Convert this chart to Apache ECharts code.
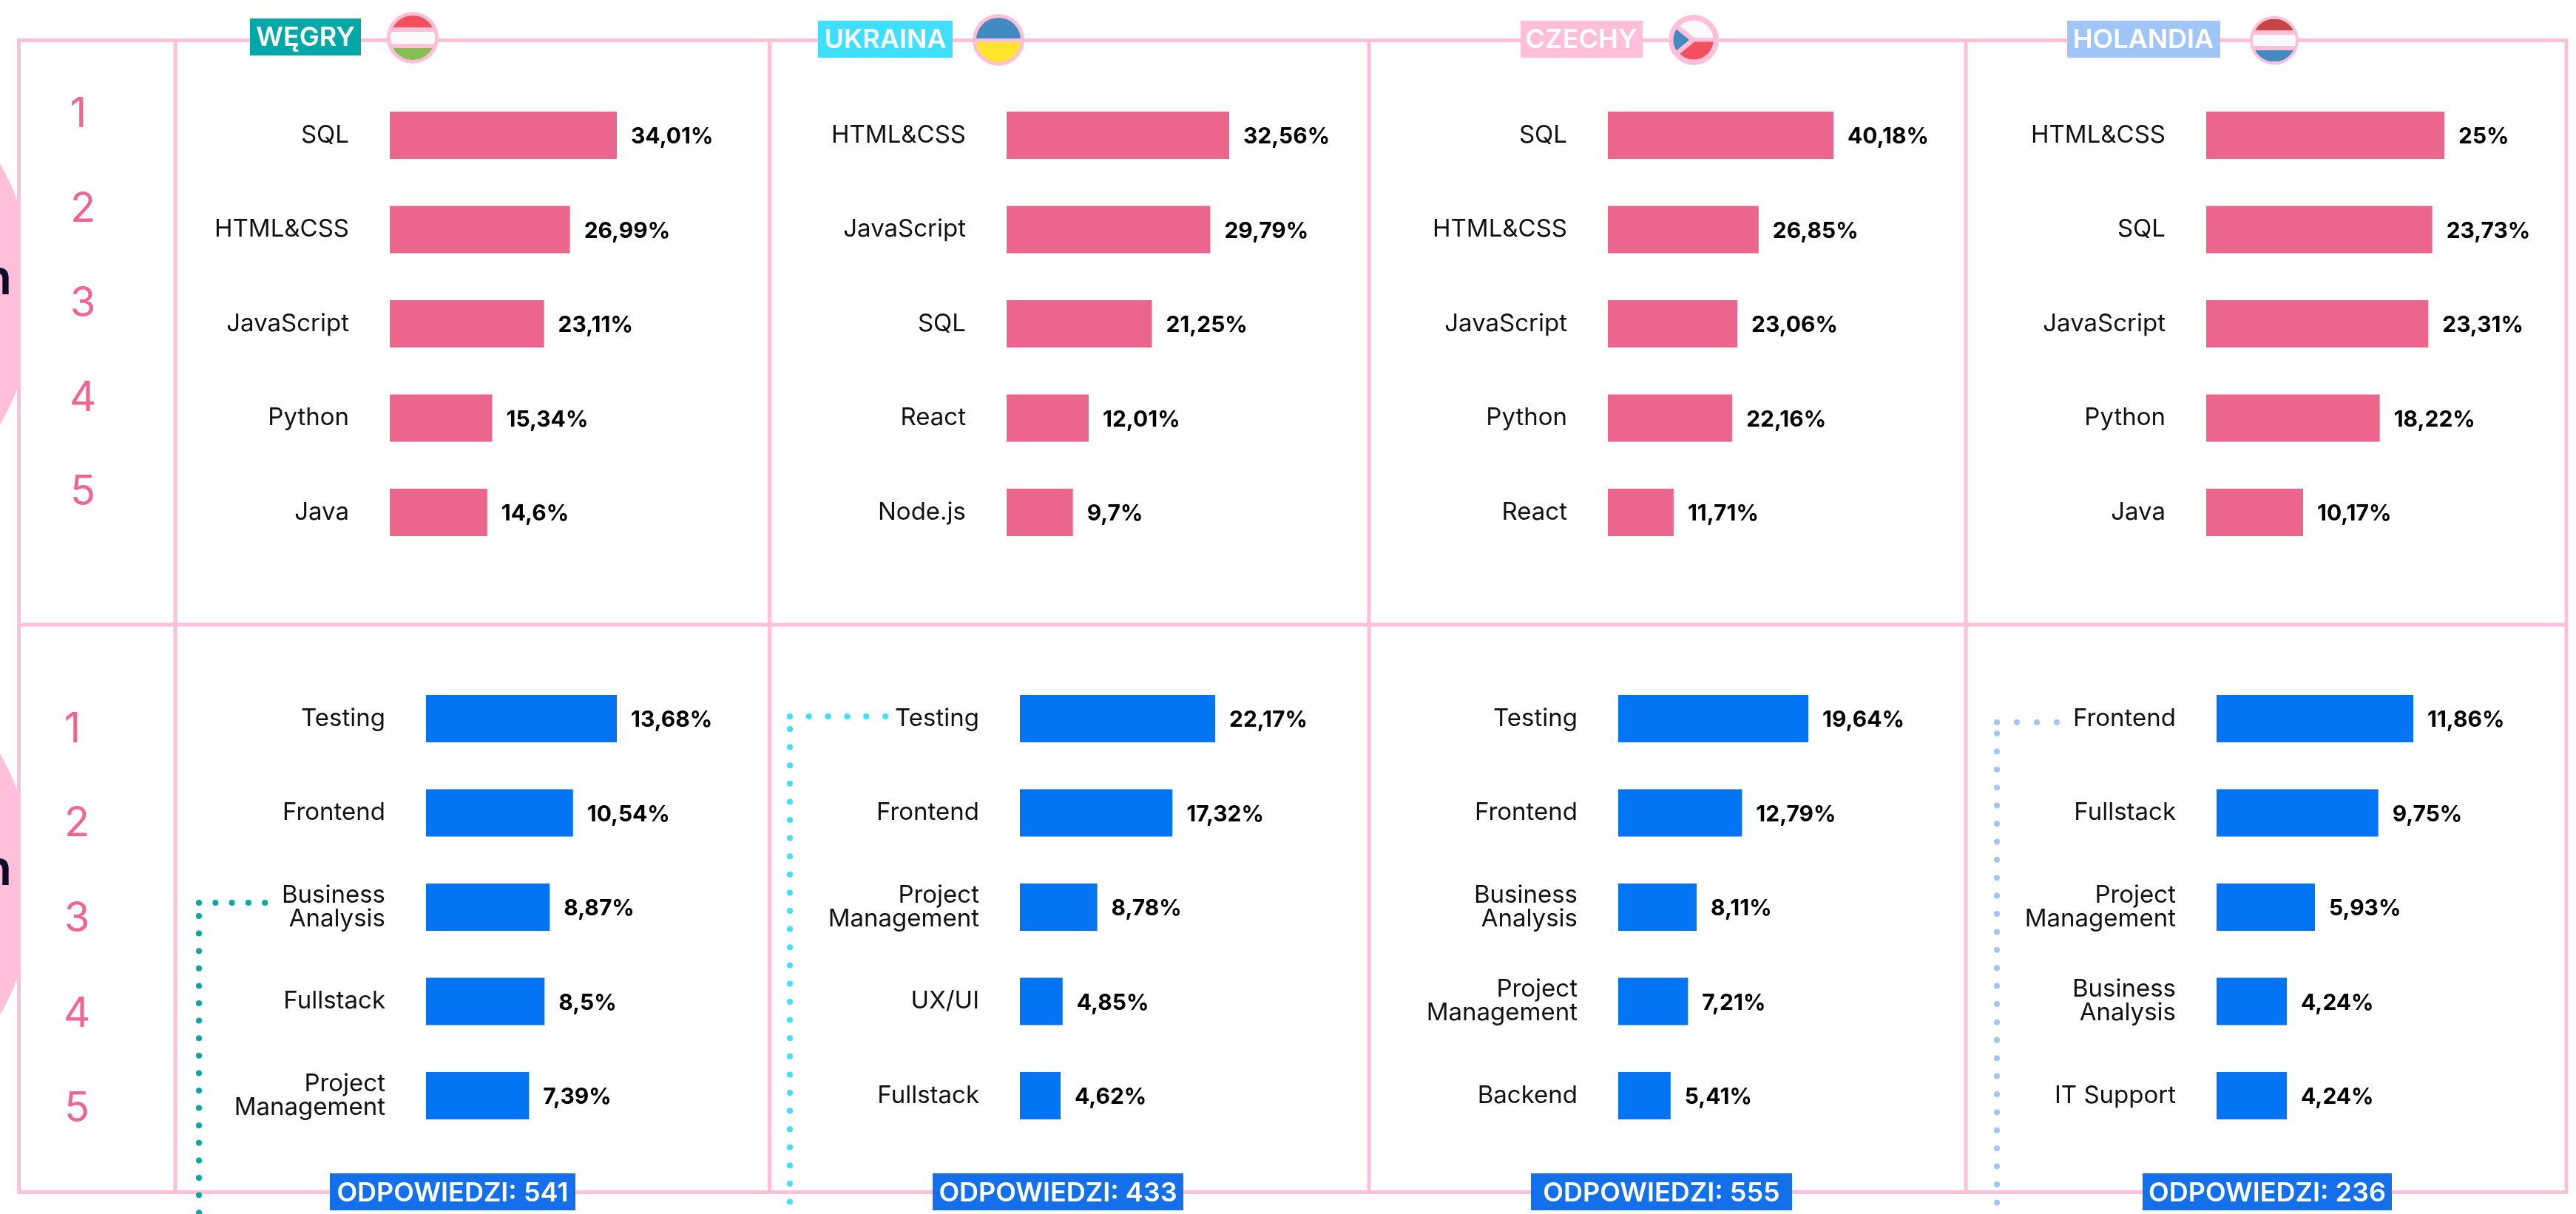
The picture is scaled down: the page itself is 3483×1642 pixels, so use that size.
<!DOCTYPE html>
<html>
<head>
<meta charset="utf-8">
<title>Wegry Ukraina Czechy Holandia</title>
<style>
  html, body { margin: 0; padding: 0; background: #fff; }
  #chart { width: 3483px; height: 1642px; }
</style>
<script src="https://cdn.jsdelivr.net/npm/echarts@6/dist/echarts.min.js"></script>
</head>
<body>
<div id="chart"></div>
<script>
const ranks = ['1', '2', '3', '4', '5']

const huTech = ['SQL', 'HTML&CSS', 'JavaScript', 'Python', 'Java']
const huTechValues = [34.01, 26.99, 23.11, 15.34, 14.6]
const uaTech = ['HTML&CSS', 'JavaScript', 'SQL', 'React', 'Node.js']
const uaTechValues = [32.56, 29.79, 21.25, 12.01, 9.7]
const czTech = ['SQL', 'HTML&CSS', 'JavaScript', 'Python', 'React']
const czTechValues = [40.18, 26.85, 23.06, 22.16, 11.71]
const nlTech = ['HTML&CSS', 'SQL', 'JavaScript', 'Python', 'Java']
const nlTechValues = [25, 23.73, 23.31, 18.22, 10.17]

const huRole = ['Testing', 'Frontend', 'Business\nAnalysis', 'Fullstack', 'Project\nManagement']
const huRoleValues = [13.68, 10.54, 8.87, 8.5, 7.39]
const uaRole = ['Testing', 'Frontend', 'Project\nManagement', 'UX/UI', 'Fullstack']
const uaRoleValues = [22.17, 17.32, 8.78, 4.85, 4.62]
const czRole = ['Testing', 'Frontend', 'Business\nAnalysis', 'Project\nManagement', 'Backend']
const czRoleValues = [19.64, 12.79, 8.11, 7.21, 5.41]
const nlRole = ['Frontend', 'Fullstack', 'Project\nManagement', 'Business\nAnalysis', 'IT Support']
const nlRoleValues = [11.86, 9.75, 5.93, 4.24, 4.24]

const answers = [541, 433, 555, 236]

const FONT = 'Inter'
const PINK = '#FFBFD9'
const NUM = '#EE6690'

// left edge and pixel width of the longest bar in each panel
const panels = [
  {names: huTech, values: huTechValues, left: 527, width: 307, top: 119.25, color: '#EC658C'},
  {names: uaTech, values: uaTechValues, left: 1361, width: 301, top: 119.25, color: '#EC658C'},
  {names: czTech, values: czTechValues, left: 2174, width: 305, top: 119.25, color: '#EC658C'},
  {names: nlTech, values: nlTechValues, left: 2983, width: 322, top: 119.25, color: '#EC658C'},
  {names: huRole, values: huRoleValues, left: 576, width: 258, top: 908.3, color: '#0274F4'},
  {names: uaRole, values: uaRoleValues, left: 1379, width: 264, top: 908.3, color: '#0274F4'},
  {names: czRole, values: czRoleValues, left: 2188, width: 257, top: 908.3, color: '#0274F4'},
  {names: nlRole, values: nlRoleValues, left: 2997, width: 266, top: 908.3, color: '#0274F4'}
]

const grid = [], xAxis = [], yAxis = [], series = []
panels.forEach((p, i) => {
  grid.push({left: p.left, top: p.top, width: p.width, height: 637.5})
  xAxis.push({type: 'value', gridIndex: i, min: 0, max: p.values[0], show: false})
  yAxis.push({
    type: 'category', gridIndex: i, inverse: true, data: p.names,
    axisLine: {show: false}, axisTick: {show: false},
    axisLabel: {interval: 0, margin: 55, fontFamily: FONT, fontSize: 33, lineHeight: 32, color: '#111', padding: [6, 0, 0, 0]}
  })
  series.push({
    type: 'bar', xAxisIndex: i, yAxisIndex: i, data: p.values, barWidth: 64,
    itemStyle: {color: p.color}, silent: true,
    label: {
      show: true, position: 'right', distance: 19, offset: [0, 2],
      fontFamily: FONT, fontSize: 30, fontWeight: 700, color: '#000',
      formatter: d => String(d.value).replace('.', ',') + '%'
    }
  })
})

const g = []
function line(x1, y1, x2, y2) {
  g.push({type: 'line', z: 3, shape: {x1, y1, x2, y2}, style: {stroke: PINK, lineWidth: 5}})
}
function rect(x, y, width, height, fill, z) {
  g.push({type: 'rect', z, shape: {x, y, width, height}, style: {fill}})
}
function text(x, y, str, size, weight, fill, z) {
  g.push({type: 'text', z, x, y, style: {text: str, fontFamily: FONT, fontSize: size, fontWeight: weight, fill, align: 'center', verticalAlign: 'middle'}})
}
function dots(x1, y1, x2, y2, step, color) {
  g.push({type: 'line', z: 4, shape: {x1, y1, x2, y2}, style: {stroke: color, lineWidth: 8, lineCap: 'round', lineDash: [0, step]}})
}
// circle slice between two horizontal levels, for the striped flags
function slice(cx, cy, r, y0, y1, fill) {
  const pts = []
  const n = 24
  for (let k = 0; k <= n; k++) {
    const y = y0 + (y1 - y0) * k / n
    pts.push([cx + Math.sqrt(Math.max(r * r - (y - cy) * (y - cy), 0)), y])
  }
  for (let k = n; k >= 0; k--) {
    const y = y0 + (y1 - y0) * k / n
    pts.push([cx - Math.sqrt(Math.max(r * r - (y - cy) * (y - cy), 0)), y])
  }
  g.push({type: 'polygon', z: 6, shape: {points: pts}, style: {fill}})
}
function disc(cx, cy, r, fill, z) {
  g.push({type: 'circle', z, shape: {cx, cy, r}, style: {fill}})
}

// cut off circles on the left edge
disc(-309, 398, 356, PINK, 1)
disc(-309, 1196, 356, PINK, 1)
rect(28, 0, 210, 1642, '#fff', 2)
text(-4, 378, 'n', 66, 600, '#0A0A2A', 2)
text(-4, 1177, 'n', 66, 600, '#0A0A2A', 2)

// table frame
line(25.5, 54.5, 3470, 54.5)
line(25.5, 845, 3470, 845)
line(25.5, 1612.5, 3470, 1612.5)
;[25.5, 237, 1040.5, 1851, 2658, 3470].forEach(x => line(x, 52, x, 1615))

// rank numbers
const topRankY = [155, 283, 411, 539, 666]
const bottomRankY = [987, 1114, 1243, 1372, 1500]
ranks.forEach((r, i) => {
  const shift = r === '1' ? -6 : 0
  text(112 + shift, topRankY[i], r, 56, 400, NUM, 5)
  text(104 + shift, bottomRankY[i], r, 56, 400, NUM, 5)
})

// country tags
rect(338, 25, 150, 50, '#00A9A7', 5)
text(413, 51, 'WĘGRY', 36, 600, '#fff', 6)
rect(1106, 28, 182, 50, '#3FDFFF', 5)
text(1197, 54, 'UKRAINA', 36, 600, '#fff', 6)
rect(2056, 28, 165, 50, PINK, 5)
text(2138, 54, 'CZECHY', 36, 600, '#fff', 6)
rect(2795, 28, 207, 50, '#A0C6F8', 5)
text(2898, 54, 'HOLANDIA', 36, 600, '#fff', 6)

// flags
disc(558, 51, 35, PINK, 5)
slice(558, 51, 30, 21, 37, '#F2505F')
slice(558, 51, 30, 43, 59.5, '#FAFAFA')
slice(558, 51, 30, 65, 81, '#84BF4F')

disc(1350, 54, 35, PINK, 5)
slice(1350, 54, 30, 24, 52, '#428BC1')
slice(1350, 54, 30, 57, 84, '#FFE62E')

disc(2290, 54, 34, PINK, 5)
const toRad = Math.PI / 180
g.push({type: 'sector', z: 6, shape: {cx: 2290, cy: 54, r: 29, r0: 0, startAngle: -140 * toRad, endAngle: 0}, style: {fill: '#FAFAFA', stroke: PINK, lineWidth: 5}})
g.push({type: 'sector', z: 6, shape: {cx: 2290, cy: 54, r: 29, r0: 0, startAngle: 0, endAngle: 140 * toRad}, style: {fill: '#F2505F', stroke: PINK, lineWidth: 5}})
g.push({type: 'sector', z: 6, shape: {cx: 2288, cy: 54, r: 28, r0: 0, startAngle: 140 * toRad, endAngle: 220 * toRad}, style: {fill: '#428BC1', stroke: PINK, lineWidth: 5}})

disc(3075, 54.5, 33, PINK, 5)
slice(3075, 54.5, 29, 26, 41, '#C94545')
slice(3075, 54.5, 29, 47, 62, '#FAFAFA')
slice(3075, 54.5, 29, 68, 83, '#428BC1')

// answer count boxes
const boxes = [[446, 332], [1261, 339], [2070, 353], [2897, 337]]
boxes.forEach((b, i) => {
  rect(b[0], 1587, b[1], 50, '#1470EA', 5)
  text(b[0] + b[1] / 2, 1614, 'ODPOWIEDZI: ' + answers[i], 36, 600, '#fff', 6)
})

// dotted connectors
dots(269, 1221, 360, 1221, 22.3, '#00A9A7')
dots(269, 1239, 269, 1650, 23.6, '#00A9A7')
dots(1068, 969, 1199, 969, 25.8, '#3FDFFF')
dots(1068, 986, 1068, 1650, 24.6, '#3FDFFF')
dots(2700, 977, 2783, 977, 27, '#A0C6F8')
dots(2700, 992, 2700, 1650, 24.4, '#A0C6F8')

const c = echarts.init(document.getElementById('chart'), null, {renderer: 'canvas'})
c.setOption({backgroundColor: '#fff', animation: false, grid, xAxis, yAxis, series, graphic: {elements: g}})
</script>
</body>
</html>
